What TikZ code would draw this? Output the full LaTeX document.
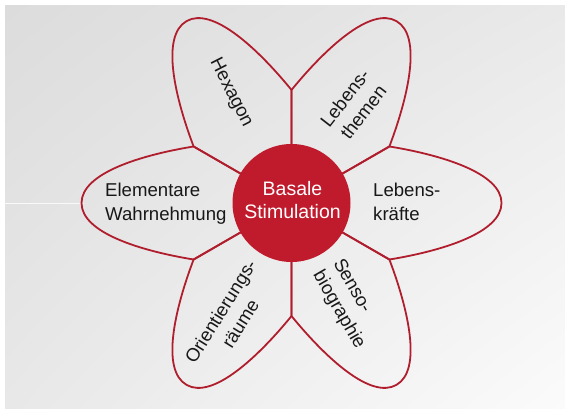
\documentclass[tikz,border=0pt]{standalone}
\usepackage{fontspec}
\setmainfont{Liberation Sans}
\usetikzlibrary{shadings}
\definecolor{flowerred}{RGB}{192,27,45}
\definecolor{petalline}{RGB}{176,30,46}
\definecolor{labeltext}{RGB}{24,24,24}
\definecolor{bgUL}{RGB}{220,220,220}
\definecolor{bgUR}{RGB}{233,233,233}
\definecolor{bgLL}{RGB}{232,232,232}
\definecolor{bgLR}{RGB}{251,251,251}
\begin{document}
\begin{tikzpicture}[x=1pt,y=1pt,
  petal/.style={draw=petalline, line width=1.8pt, line join=round},
  petallabel/.style={text=labeltext, inner sep=0pt, font=\fontsize{18.6}{23.3}\selectfont},
  core/.style={circle, fill=flowerred, minimum size=118pt, inner sep=0pt},
  corelabel/.style={text=white, inner sep=0pt, align=center, font=\fontsize{19.5}{23.3}\selectfont}]
\useasboundingbox (0,0) rectangle (565,409);
% page and soft grey backdrop
\fill[white] (0,0) rectangle (565,409);
\shade[upper left=bgUL, upper right=bgUR, lower left=bgLL, lower right=bgLR] (5,0) rectangle (565,403);
\draw[white, line width=0.8pt, opacity=0.8] (5,205.7) -- (84,205.7);
% six petals around the centre
\coordinate (c) at (291.5,206);
\foreach \a in {0,60,...,300} {
  \begin{scope}[shift={(c)}, rotate=\a]
    \draw[petal] (0,0) -- (98,-56.5)
      .. controls (150,-48) and (210,-30) .. (210,0)
      .. controls (210,30) and (150,48) .. (98,56.5) -- cycle;
  \end{scope}
}
% centre disc
\node[core] (hub) at (c) {};
\node[corelabel] (hubtext) at (292.5,209.3) {Basale\\Stimulation};
% petal labels
\node[petallabel, align=left, anchor=west] (elem) at (105,205.3) {Elementare\\Wahrnehmung};
\node[petallabel, align=left, anchor=west] (kraefte) at (373,207) {Lebens-\\kräfte};
\node[petallabel, rotate=-63] (hexa) at (231,316) {Hexagon};
\node[petallabel, align=center, rotate=52] (themen) at (354,304) {Lebens-\\themen};
\node[petallabel, align=center, rotate=58] (raeume) at (230.4,91.6) {Orientierungs-\\räume};
\node[petallabel, align=left, rotate=-60] (senso) at (348.6,104.8) {Senso-\\biographie};
\end{tikzpicture}
\end{document}
